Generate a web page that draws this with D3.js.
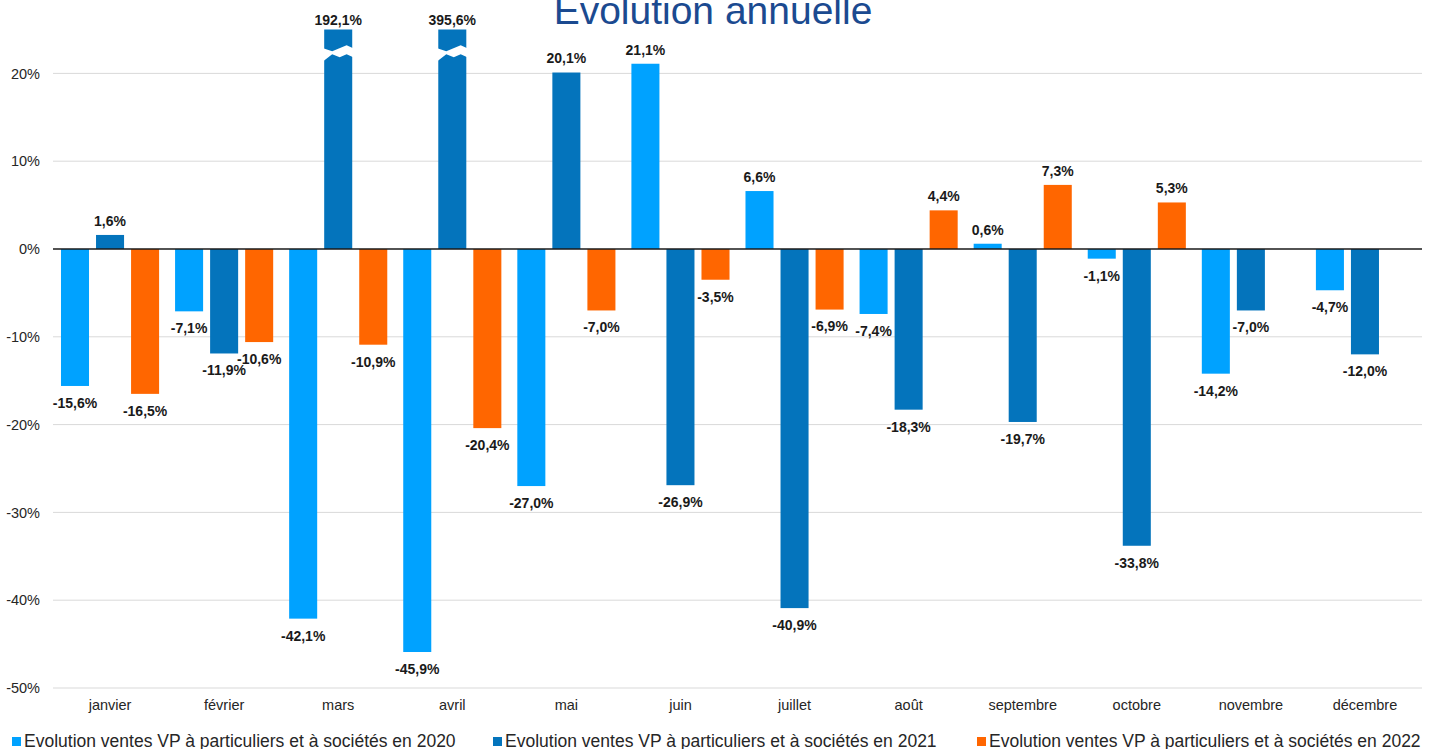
<!DOCTYPE html>
<html>
<head>
<meta charset="utf-8">
<script src="https://cdn.jsdelivr.net/npm/d3@7"></script>
<style>
  body { margin: 0; background: #fff; }
  svg { display: block; font-family: "Liberation Sans", Arial, sans-serif; }
</style>
</head>
<body>
<svg id="chart"></svg>
<script>
// Months on the x axis
var months = ["janvier", "février", "mars", "avril", "mai", "juin", "juillet", "août", "septembre", "octobre", "novembre", "décembre"];

// Yearly change in %, one array per series
var evol2020 = [-15.6, -7.1, -42.1, -45.9, -27.0, 21.1, 6.6, -7.4, 0.6, -1.1, -14.2, -4.7];
var evol2021 = [1.6, -11.9, 192.1, 395.6, 20.1, -26.9, -40.9, -18.3, -19.7, -33.8, -7.0, -12.0];
var evol2022 = [-16.5, -10.6, -10.9, -20.4, -7.0, -3.5, -6.9, 4.4, 7.3, 5.3, null, null];

var seriesNames = [
  "Evolution ventes VP à particuliers et à sociétés en 2020",
  "Evolution ventes VP à particuliers et à sociétés en 2021",
  "Evolution ventes VP à particuliers et à sociétés en 2022"
];
var seriesValues = [evol2020, evol2021, evol2022];
var seriesColours = ["#00a2ff", "#0474bc", "#ff6600"];

// Y axis ticks
var yTicks = [20, 10, 0, -10, -20, -30, -40, -50];

var width = 1437, height = 749;
var svg = d3.select("#chart").attr("width", width).attr("height", height);

// Scales
var x0 = d3.scaleBand()
  .domain(months)
  .range([53, 1422])
  .paddingInner(0.14)
  .paddingOuter(0.07);

var x1 = d3.scaleBand()
  .domain([0, 1, 2])
  .range([0, x0.bandwidth()])
  .paddingInner(0.2);

var yMax = 25;
var y = d3.scaleLinear()
  .domain([-50, yMax])
  .range([688, 29.5])
  .clamp(true);

// Title (cut at the top like the original slide)
svg.append("text")
  .attr("x", 713)
  .attr("y", 24)
  .attr("text-anchor", "middle")
  .attr("fill", "#1b4a90")
  .style("font-size", "39px")
  .text("Evolution annuelle");

// Gridlines
svg.append("g")
  .selectAll("line")
  .data(yTicks.filter(function (d) { return d !== 0; }))
  .enter()
  .append("line")
  .attr("x1", 53)
  .attr("x2", 1422)
  .attr("y1", function (d) { return y(d); })
  .attr("y2", function (d) { return y(d); })
  .attr("stroke", "#d9d9d9")
  .attr("stroke-width", 1);

// Y axis labels
var yAxis = d3.axisLeft(y)
  .tickValues(yTicks)
  .tickSize(0)
  .tickPadding(0)
  .tickFormat(function (d) { return d + "%"; });

var yg = svg.append("g")
  .attr("transform", "translate(40,0)")
  .call(yAxis);
yg.select(".domain").remove();
yg.selectAll("text")
  .attr("fill", "#262626")
  .style("font-size", "14.5px")
  .style("font-family", "'Liberation Sans', Arial, sans-serif");

// X axis labels
var xAxis = d3.axisBottom(x0).tickSize(0).tickPadding(0);
var xg = svg.append("g")
  .attr("transform", "translate(0,700)")
  .call(xAxis);
xg.select(".domain").remove();
xg.selectAll("text")
  .attr("fill", "#262626")
  .style("font-size", "14.5px")
  .style("font-family", "'Liberation Sans', Arial, sans-serif");

// Flatten bar data
var bars = [];
months.forEach(function (m, i) {
  seriesValues.forEach(function (vals, s) {
    if (vals[i] !== null) bars.push({ month: m, series: s, value: vals[i] });
  });
});

// Bars
svg.append("g")
  .selectAll("rect")
  .data(bars)
  .enter()
  .append("rect")
  .attr("x", function (d) { return x0(d.month) + x1(d.series); })
  .attr("width", x1.bandwidth())
  .attr("y", function (d) { return Math.min(y(d.value), y(0)); })
  .attr("height", function (d) { return Math.abs(y(d.value) - y(0)); })
  .attr("fill", function (d) { return seriesColours[d.series]; });

// Break marks (white zigzag tear) on bars that go past the top of the chart
var breakY = y(22.3);
svg.append("g")
  .selectAll("path")
  .data(bars.filter(function (d) { return d.value > yMax; }))
  .enter()
  .append("path")
  .attr("d", function (d) {
    var xa = x0(d.month) + x1(d.series) - 1;
    var w = x1.bandwidth() + 2;
    var t = breakY - 5;
    return "M" + xa + "," + t +
      "L" + (xa + w * 0.3) + "," + (t + 3) +
      "L" + (xa + w * 0.78) + "," + (t - 3) +
      "L" + (xa + w) + "," + t +
      "L" + (xa + w) + "," + (t + 9) +
      "L" + (xa + w * 0.78) + "," + (t + 6) +
      "L" + (xa + w * 0.55) + "," + (t + 9) +
      "L" + (xa + w * 0.3) + "," + (t + 6) +
      "L" + xa + "," + (t + 13) + "Z";
  })
  .attr("fill", "#fff");

// Zero line
svg.append("line")
  .attr("x1", 53)
  .attr("x2", 1422)
  .attr("y1", y(0))
  .attr("y2", y(0))
  .attr("stroke", "#1a1a1a")
  .attr("stroke-width", 1.5);

// Value labels
svg.append("g")
  .selectAll("text")
  .data(bars)
  .enter()
  .append("text")
  .attr("x", function (d) { return x0(d.month) + x1(d.series) + x1.bandwidth() / 2; })
  .attr("y", function (d) {
    if (d.value > yMax) return y(yMax) - 9;
    return d.value >= 0 ? y(d.value) - 14 : y(d.value) + 17;
  })
  .attr("dy", "0.35em")
  .attr("text-anchor", "middle")
  .attr("fill", "#1a1a1a")
  .style("font-size", "14px")
  .style("font-weight", "bold")
  .text(function (d) { return d.value.toFixed(1).replace(".", ",") + "%"; });

// Legend
var legendX = [12, 493, 977];
var legend = svg.append("g")
  .selectAll("g")
  .data(seriesNames)
  .enter()
  .append("g")
  .attr("transform", function (d, i) { return "translate(" + legendX[i] + ",737)"; });

legend.append("rect")
  .attr("width", 9)
  .attr("height", 9)
  .attr("fill", function (d, i) { return seriesColours[i]; });

legend.append("text")
  .attr("x", 12)
  .attr("y", 10)
  .attr("fill", "#262626")
  .style("font-size", "17.5px")
  .text(function (d) { return d; });
</script>
</body>
</html>
